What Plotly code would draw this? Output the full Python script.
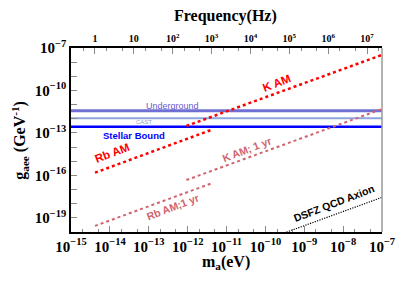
import numpy as np
import plotly.graph_objects as go

# ---- data (log-log, m_a in eV, g_aee in GeV^-1) ----
h_eVs = 4.1357e-15
rb_am_m = [4.14e-15, 4.14e-12]
rb_am_g = [1.55e-16, 1.66e-13]
rb_1yr_m = [4.14e-15, 4.14e-12]
rb_1yr_g = [2.7e-20, 2.75e-17]
k_am_m = [9.3e-13, 1.0e-7]
k_am_g = [3.1e-13, 3.25e-8]
k_1yr_m = [9.3e-13, 1.0e-7]
k_1yr_g = [4.7e-17, 4.9e-12]
dfsz_m = [1.0e-10, 1.0e-7]
dfsz_g = [2.8e-21, 2.8e-18]
underground_g = 3.7e-12
cast_g = 1.07e-12
stellar_g = 2.75e-13
x_range_eV = [1e-15, 1e-7]
y_range = [1e-20, 1e-7]
freq_ticks = [1, 10, 1e2, 1e3, 1e4, 1e5, 1e6, 1e7]
freq_ticktext = ["1", "10", "10<sup>2</sup>", "10<sup>3</sup>", "10<sup>4</sup>",
                 "10<sup>5</sup>", "10<sup>6</sup>", "10<sup>7</sup>"]
x_tick_exps = list(range(-15, -6))
y_tick_exps = list(range(-20, -6))

SERIF = "Liberation Serif"
SANS = "Liberation Sans"

fig = go.Figure()

def hline(g, color, width):
    fig.add_trace(go.Scatter(x=x_range_eV, y=[g, g], mode="lines",
                             line=dict(color=color, width=width), showlegend=False))

hline(underground_g, "#7070d4", 3)
hline(cast_g, "#8ea6dc", 2)
hline(stellar_g, "#0000ff", 2.5)

def dotted(xs, ys, color, width, dash="dot"):
    fig.add_trace(go.Scatter(x=xs, y=ys, mode="lines",
                             line=dict(color=color, width=width, dash=dash), showlegend=False))

dotted(rb_am_m, rb_am_g, "#ff0000", 2.5)
dotted(k_am_m, k_am_g, "#ff0000", 2.5)
dotted(rb_1yr_m, rb_1yr_g, "#d0646e", 2)
dotted(k_1yr_m, k_1yr_g, "#d0646e", 2)
dotted(dfsz_m, dfsz_g, "#000000", 1.2, dash="1.2px,1.3px")

# invisible trace for top axis
fig.add_trace(go.Scatter(x=[x_range_eV[0] / h_eVs, x_range_eV[1] / h_eVs], y=y_range,
                         xaxis="x2", mode="markers", marker=dict(opacity=0),
                         showlegend=False, hoverinfo="skip"))

def ann(text, lx, ly, color, size, bold=True, angle=0, family=SANS):
    t = f"<b>{text}</b>" if bold else text
    fig.add_annotation(x=lx, y=ly, xref="x", yref="y", text=t, showarrow=False,
                       textangle=angle, font=dict(family=family, size=size, color=color))

ann("Underground", -12.39, -11.08, "#6a5acd", 9, bold=False)
ann("CAST", -13.12, -12.21, "#8aa0cc", 6, bold=False)
ann("Stellar Bound", -13.37, -13.15, "#0000ff", 9.5, bold=True)
ann("Rb AM", -13.95, -14.39, "#ff0000", 11.5, angle=-21)
ann("K AM", -9.71, -9.44, "#ff0000", 11.5, angle=-21)
ann("K AM; 1 yr", -10.46, -14.14, "#d0646e", 10.5, angle=-21)
ann("Rb AM;1 yr", -12.40, -18.20, "#d0646e", 10.5, angle=-21)
ann("DSFZ QCD Axion", -8.235, -17.92, "#000000", 10.5, angle=-21)

# axis titles as paper annotations
def title_ann(text, x, y, angle=0, size=16):
    fig.add_annotation(x=x, y=y, xref="paper", yref="paper", text=text, showarrow=False,
                       textangle=angle, xanchor="center", yanchor="middle",
                       font=dict(family=SERIF, size=size, color="black"))

title_ann("<b>g<sub>aee</sub> (GeV<sup>-1</sup>)</b>", -0.165, 0.5, angle=-90, size=16)
title_ann("<b>m<sub>a</sub>(eV)</b>", 0.498, -0.165, size=16)
title_ann("<b>Frequency(Hz)</b>", 0.498, 1.172, size=16)

x_tickvals = [10.0**e for e in x_tick_exps]
x_ticktext = [f"<b>10<sup>\u2212{-e}</sup></b>" for e in x_tick_exps]
y_tickvals = [10.0**e for e in y_tick_exps]
y_ticktext = [f"<b>10<sup>\u2212{-e}</sup></b>" if (e + 7) % 3 == 0 else "" for e in y_tick_exps]
f_ticktext = [f"<b>{t}</b>" for t in freq_ticktext]

# page body has an 8px default margin; offsets compensate for it
fig.update_layout(
    width=415, height=281,
    margin=dict(l=63, r=41, t=40, b=57),
    paper_bgcolor="white", plot_bgcolor="white",
    showlegend=False,
    xaxis=dict(type="log", range=[np.log10(x_range_eV[0]), np.log10(x_range_eV[1])],
               automargin=False,
               tickvals=x_tickvals, ticktext=x_ticktext,
               ticks="inside", ticklen=6, tickcolor="#888888", tickwidth=1,
               minor=dict(ticks="inside", ticklen=3, tickcolor="#888888", showgrid=False),
               showline=True, linecolor="black", linewidth=1.5, showgrid=False, zeroline=False,
               tickfont=dict(family=SERIF, size=15, color="black")),
    xaxis2=dict(type="log", overlaying="x", side="top", automargin=False,
                range=[np.log10(x_range_eV[0] / h_eVs), np.log10(x_range_eV[1] / h_eVs)],
                tickvals=freq_ticks, ticktext=f_ticktext,
                ticks="inside", ticklen=6, tickcolor="#888888",
                minor=dict(ticks="inside", ticklen=3, tickcolor="#888888", showgrid=False),
                showline=True, linecolor="black", linewidth=1.5, showgrid=False, zeroline=False,
                tickfont=dict(family=SERIF, size=10, color="black")),
    yaxis=dict(type="log", range=[np.log10(y_range[0]), np.log10(y_range[1])],
               automargin=False,
               tickvals=y_tickvals, ticktext=y_ticktext,
               ticks="inside", ticklen=6, tickcolor="#888888",
               showline=True, linecolor="black", linewidth=1.5, showgrid=False, zeroline=False,
               tickfont=dict(family=SERIF, size=15, color="black")),
)

fig.add_shape(type="line", xref="paper", yref="paper", x0=1, x1=1, y0=0, y1=1,
              line=dict(color="#999999", width=1.5))

fig.write_html("out.html")
